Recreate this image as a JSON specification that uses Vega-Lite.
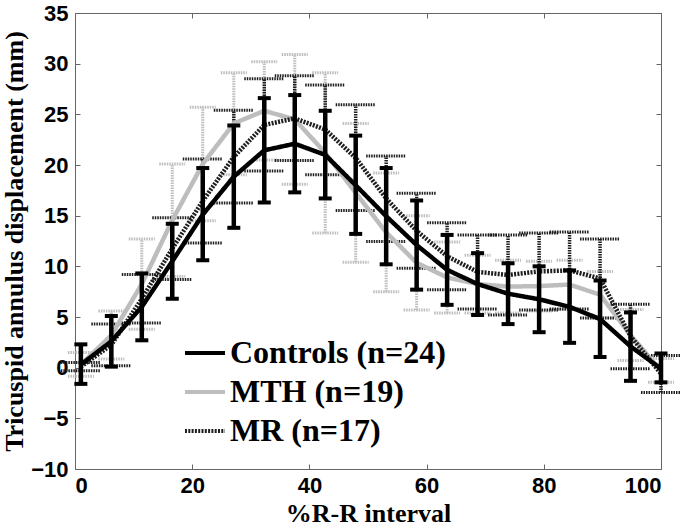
{
  "$schema": "https://vega.github.io/schema/vega-lite/v6.json",
  "width": 586,
  "height": 456,
  "autosize": "none",
  "padding": {"left": 75, "top": 13, "right": 25, "bottom": 62},
  "background": "white",
  "data": {
    "values": [
      {"series": "MTH (n=19)", "x": 1, "mean": 0.3, "lo": -0.85, "hi": 1.5},
      {"series": "MTH (n=19)", "x": 6.2, "mean": 3.2, "lo": 0.85, "hi": 5.6},
      {"series": "MTH (n=19)", "x": 11.4, "mean": 8.25, "lo": 3.8, "hi": 12.7},
      {"series": "MTH (n=19)", "x": 16.6, "mean": 14.55, "lo": 9.0, "hi": 20.1},
      {"series": "MTH (n=19)", "x": 21.8, "mean": 20.1, "lo": 14.5, "hi": 25.7},
      {"series": "MTH (n=19)", "x": 27.1, "mean": 24.1, "lo": 19.05, "hi": 29.1},
      {"series": "MTH (n=19)", "x": 32.3, "mean": 25.35, "lo": 20.5, "hi": 30.2},
      {"series": "MTH (n=19)", "x": 37.5, "mean": 24.5, "lo": 18.1, "hi": 30.9},
      {"series": "MTH (n=19)", "x": 42.7, "mean": 21.2, "lo": 13.3, "hi": 29.1},
      {"series": "MTH (n=19)", "x": 47.9, "mean": 17.25, "lo": 10.4, "hi": 24.1},
      {"series": "MTH (n=19)", "x": 53.1, "mean": 13.35, "lo": 7.5, "hi": 19.2},
      {"series": "MTH (n=19)", "x": 58.3, "mean": 10.35, "lo": 5.7, "hi": 15.0},
      {"series": "MTH (n=19)", "x": 63.5, "mean": 8.9, "lo": 5.4, "hi": 12.4},
      {"series": "MTH (n=19)", "x": 68.7, "mean": 8.25, "lo": 5.4, "hi": 11.1},
      {"series": "MTH (n=19)", "x": 73.9, "mean": 8.0, "lo": 5.4, "hi": 10.6},
      {"series": "MTH (n=19)", "x": 79.2, "mean": 8.05, "lo": 5.6, "hi": 10.5},
      {"series": "MTH (n=19)", "x": 84.4, "mean": 8.2, "lo": 5.75, "hi": 10.6},
      {"series": "MTH (n=19)", "x": 89.6, "mean": 7.2, "lo": 4.9, "hi": 9.5},
      {"series": "MTH (n=19)", "x": 94.8, "mean": 3.2, "lo": 0.7, "hi": 5.75},
      {"series": "MTH (n=19)", "x": 100, "mean": -0.3, "lo": -1.45, "hi": 0.9},
      {"series": "MR (n=17)", "x": 1, "mean": 0.1, "lo": -0.3, "hi": 0.5},
      {"series": "MR (n=17)", "x": 6.2, "mean": 2.25, "lo": 0.2, "hi": 4.3},
      {"series": "MR (n=17)", "x": 11.4, "mean": 6.8, "lo": 4.4, "hi": 9.2},
      {"series": "MR (n=17)", "x": 16.6, "mean": 11.75, "lo": 8.7, "hi": 14.8},
      {"series": "MR (n=17)", "x": 21.8, "mean": 16.45, "lo": 12.3, "hi": 20.6},
      {"series": "MR (n=17)", "x": 27.1, "mean": 20.8, "lo": 16.25, "hi": 25.4},
      {"series": "MR (n=17)", "x": 32.3, "mean": 23.95, "lo": 19.4, "hi": 28.5},
      {"series": "MR (n=17)", "x": 37.5, "mean": 24.6, "lo": 20.45, "hi": 28.8},
      {"series": "MR (n=17)", "x": 42.7, "mean": 23.5, "lo": 19.05, "hi": 27.9},
      {"series": "MR (n=17)", "x": 47.9, "mean": 20.7, "lo": 15.5, "hi": 25.95},
      {"series": "MR (n=17)", "x": 53.1, "mean": 16.7, "lo": 12.45, "hi": 20.9},
      {"series": "MR (n=17)", "x": 58.3, "mean": 13.5, "lo": 9.8, "hi": 17.2},
      {"series": "MR (n=17)", "x": 63.5, "mean": 11.0, "lo": 7.7, "hi": 14.3},
      {"series": "MR (n=17)", "x": 68.7, "mean": 9.45, "lo": 5.8, "hi": 13.1},
      {"series": "MR (n=17)", "x": 73.9, "mean": 9.15, "lo": 5.2, "hi": 13.1},
      {"series": "MR (n=17)", "x": 79.2, "mean": 9.5, "lo": 5.7, "hi": 13.3},
      {"series": "MR (n=17)", "x": 84.4, "mean": 9.6, "lo": 5.8, "hi": 13.4},
      {"series": "MR (n=17)", "x": 89.6, "mean": 8.8, "lo": 4.9, "hi": 12.7},
      {"series": "MR (n=17)", "x": 94.8, "mean": 3.1, "lo": -0.1, "hi": 6.25},
      {"series": "MR (n=17)", "x": 100, "mean": -0.6, "lo": -2.45, "hi": 1.2},
      {"series": "Controls (n=24)", "x": 1, "mean": 0.3, "lo": -1.6, "hi": 2.3},
      {"series": "Controls (n=24)", "x": 6.2, "mean": 2.6, "lo": 0.1, "hi": 5.1},
      {"series": "Controls (n=24)", "x": 11.4, "mean": 6.0, "lo": 2.7, "hi": 9.3},
      {"series": "Controls (n=24)", "x": 16.6, "mean": 10.5, "lo": 6.8, "hi": 14.2},
      {"series": "Controls (n=24)", "x": 21.8, "mean": 15.1, "lo": 10.6, "hi": 19.7},
      {"series": "Controls (n=24)", "x": 27.1, "mean": 18.85, "lo": 13.8, "hi": 23.9},
      {"series": "Controls (n=24)", "x": 32.3, "mean": 21.45, "lo": 16.3, "hi": 26.6},
      {"series": "Controls (n=24)", "x": 37.5, "mean": 22.1, "lo": 17.3, "hi": 26.9},
      {"series": "Controls (n=24)", "x": 42.7, "mean": 21.0, "lo": 16.7, "hi": 25.35},
      {"series": "Controls (n=24)", "x": 47.9, "mean": 18.0, "lo": 13.2, "hi": 22.9},
      {"series": "Controls (n=24)", "x": 53.1, "mean": 14.95, "lo": 10.2, "hi": 19.7},
      {"series": "Controls (n=24)", "x": 58.3, "mean": 12.1, "lo": 7.7, "hi": 16.5},
      {"series": "Controls (n=24)", "x": 63.5, "mean": 9.65, "lo": 6.2, "hi": 13.1},
      {"series": "Controls (n=24)", "x": 68.7, "mean": 8.25, "lo": 5.2, "hi": 11.3},
      {"series": "Controls (n=24)", "x": 73.9, "mean": 7.3, "lo": 4.3, "hi": 10.3},
      {"series": "Controls (n=24)", "x": 79.2, "mean": 6.75, "lo": 3.5, "hi": 10.0},
      {"series": "Controls (n=24)", "x": 84.4, "mean": 6.0, "lo": 2.45, "hi": 9.6},
      {"series": "Controls (n=24)", "x": 89.6, "mean": 4.8, "lo": 1.05, "hi": 8.6},
      {"series": "Controls (n=24)", "x": 94.8, "mean": 2.1, "lo": -1.3, "hi": 5.45},
      {"series": "Controls (n=24)", "x": 100, "mean": -0.1, "lo": -1.45, "hi": 1.4}
    ]
  },
  "resolve": {"axis": {"x": "independent", "y": "independent"}},
  "layer": [
    {
      "transform": [{"filter": "datum.series === 'MTH (n=19)'"}],
      "mark": {"type": "rule", "color": "#bdbdbd", "strokeWidth": 3, "strokeDash": [1.5, 1]},
      "encoding": {
        "x": {"field": "x", "type": "quantitative", "scale": {"domain": [0, 100], "nice": false},
              "axis": {"orient": "bottom", "values": [0, 20, 40, 60, 80, 100], "title": "%R-R interval", "labelPadding": 11, "titlePadding": 4}},
        "y": {"field": "lo", "type": "quantitative", "scale": {"domain": [-10, 35], "nice": false},
              "axis": {"orient": "left", "values": [-10, -5, 0, 5, 10, 15, 20, 25, 30, 35], "title": "Tricuspid annulus displacement (mm)", "labelPadding": 12, "titlePadding": 3}},
        "y2": {"field": "hi"}
      }
    },
    {
      "transform": [{"filter": "datum.series === 'MTH (n=19)'"}],
      "mark": {"type": "rule", "color": "#bdbdbd", "strokeWidth": 3, "strokeDash": [1.5, 1], "xOffset": -13, "x2Offset": 13},
      "encoding": {
        "x": {"field": "x", "type": "quantitative", "axis": null},
        "x2": {"field": "x"},
        "y": {"field": "hi", "type": "quantitative", "axis": null}
      }
    },
    {
      "transform": [{"filter": "datum.series === 'MTH (n=19)'"}],
      "mark": {"type": "rule", "color": "#bdbdbd", "strokeWidth": 3, "strokeDash": [1.5, 1], "xOffset": -13, "x2Offset": 13},
      "encoding": {
        "x": {"field": "x", "type": "quantitative", "axis": null},
        "x2": {"field": "x"},
        "y": {"field": "lo", "type": "quantitative", "axis": null}
      }
    },
    {
      "transform": [{"filter": "datum.series === 'MR (n=17)'"}],
      "mark": {"type": "rule", "color": "#1e1e1e", "strokeWidth": 3.5, "strokeDash": [1.5, 1]},
      "encoding": {
        "x": {"field": "x", "type": "quantitative", "axis": null},
        "y": {"field": "lo", "type": "quantitative", "axis": null},
        "y2": {"field": "hi"}
      }
    },
    {
      "transform": [{"filter": "datum.series === 'MR (n=17)'"}],
      "mark": {"type": "rule", "color": "#1e1e1e", "strokeWidth": 3, "strokeDash": [1.5, 1], "xOffset": -20, "x2Offset": 20},
      "encoding": {
        "x": {"field": "x", "type": "quantitative", "axis": null},
        "x2": {"field": "x"},
        "y": {"field": "hi", "type": "quantitative", "axis": null}
      }
    },
    {
      "transform": [{"filter": "datum.series === 'MR (n=17)'"}],
      "mark": {"type": "rule", "color": "#1e1e1e", "strokeWidth": 3, "strokeDash": [1.5, 1], "xOffset": -20, "x2Offset": 20},
      "encoding": {
        "x": {"field": "x", "type": "quantitative", "axis": null},
        "x2": {"field": "x"},
        "y": {"field": "lo", "type": "quantitative", "axis": null}
      }
    },
    {
      "mark": {"type": "line", "strokeWidth": 4.5},
      "encoding": {
        "x": {"field": "x", "type": "quantitative",
              "axis": {"orient": "top", "values": [0, 20, 40, 60, 80, 100], "labels": false, "title": null}},
        "y": {"field": "mean", "type": "quantitative",
              "axis": {"orient": "right", "values": [-10, -5, 0, 5, 10, 15, 20, 25, 30, 35], "labels": false, "title": null}},
        "color": {"field": "series", "type": "nominal",
                  "scale": {"domain": ["Controls (n=24)", "MTH (n=19)", "MR (n=17)"], "range": ["#000000", "#bdbdbd", "#1e1e1e"]},
                  "legend": {"title": null, "orient": "none", "legendX": 108, "legendY": 318}},
        "strokeDash": {"field": "series", "type": "nominal",
                       "scale": {"domain": ["Controls (n=24)", "MTH (n=19)", "MR (n=17)"], "range": [[1, 0], [1, 0], [2, 1.3]]},
                       "legend": {"title": null, "orient": "none", "legendX": 108, "legendY": 318}},
        "detail": {"field": "series"}
      }
    },
    {
      "transform": [{"filter": "datum.series === 'Controls (n=24)'"}],
      "mark": {"type": "rule", "color": "#000000", "strokeWidth": 4.5},
      "encoding": {
        "x": {"field": "x", "type": "quantitative", "axis": null},
        "y": {"field": "lo", "type": "quantitative", "axis": null},
        "y2": {"field": "hi"}
      }
    },
    {
      "transform": [{"filter": "datum.series === 'Controls (n=24)'"}],
      "mark": {"type": "rule", "color": "#000000", "strokeWidth": 4, "xOffset": -6.5, "x2Offset": 6.5},
      "encoding": {
        "x": {"field": "x", "type": "quantitative", "axis": null},
        "x2": {"field": "x"},
        "y": {"field": "hi", "type": "quantitative", "axis": null}
      }
    },
    {
      "transform": [{"filter": "datum.series === 'Controls (n=24)'"}],
      "mark": {"type": "rule", "color": "#000000", "strokeWidth": 4, "xOffset": -6.5, "x2Offset": 6.5},
      "encoding": {
        "x": {"field": "x", "type": "quantitative", "axis": null},
        "x2": {"field": "x"},
        "y": {"field": "lo", "type": "quantitative", "axis": null}
      }
    }
  ],
  "config": {
    "view": {"stroke": "#666666", "strokeWidth": 1},
    "axis": {
      "domain": false,
      "grid": false,
      "tickColor": "#666666",
      "tickSize": -5,
      "labelFont": "Liberation Sans",
      "labelFontWeight": "bold",
      "labelFontSize": 22,
      "labelColor": "#000000",
      "titleFont": "Liberation Serif",
      "titleFontWeight": "bold",
      "titleFontSize": 26,
      "titleColor": "#000000"
    },
    "legend": {
      "labelFont": "Liberation Serif",
      "labelFontWeight": "bold",
      "labelFontSize": 32,
      "labelColor": "#000000",
      "labelLimit": 400,
      "symbolType": "stroke",
      "symbolStrokeWidth": 4,
      "symbolSize": 1600,
      "rowPadding": 1,
      "labelOffset": 3
    }
  }
}
